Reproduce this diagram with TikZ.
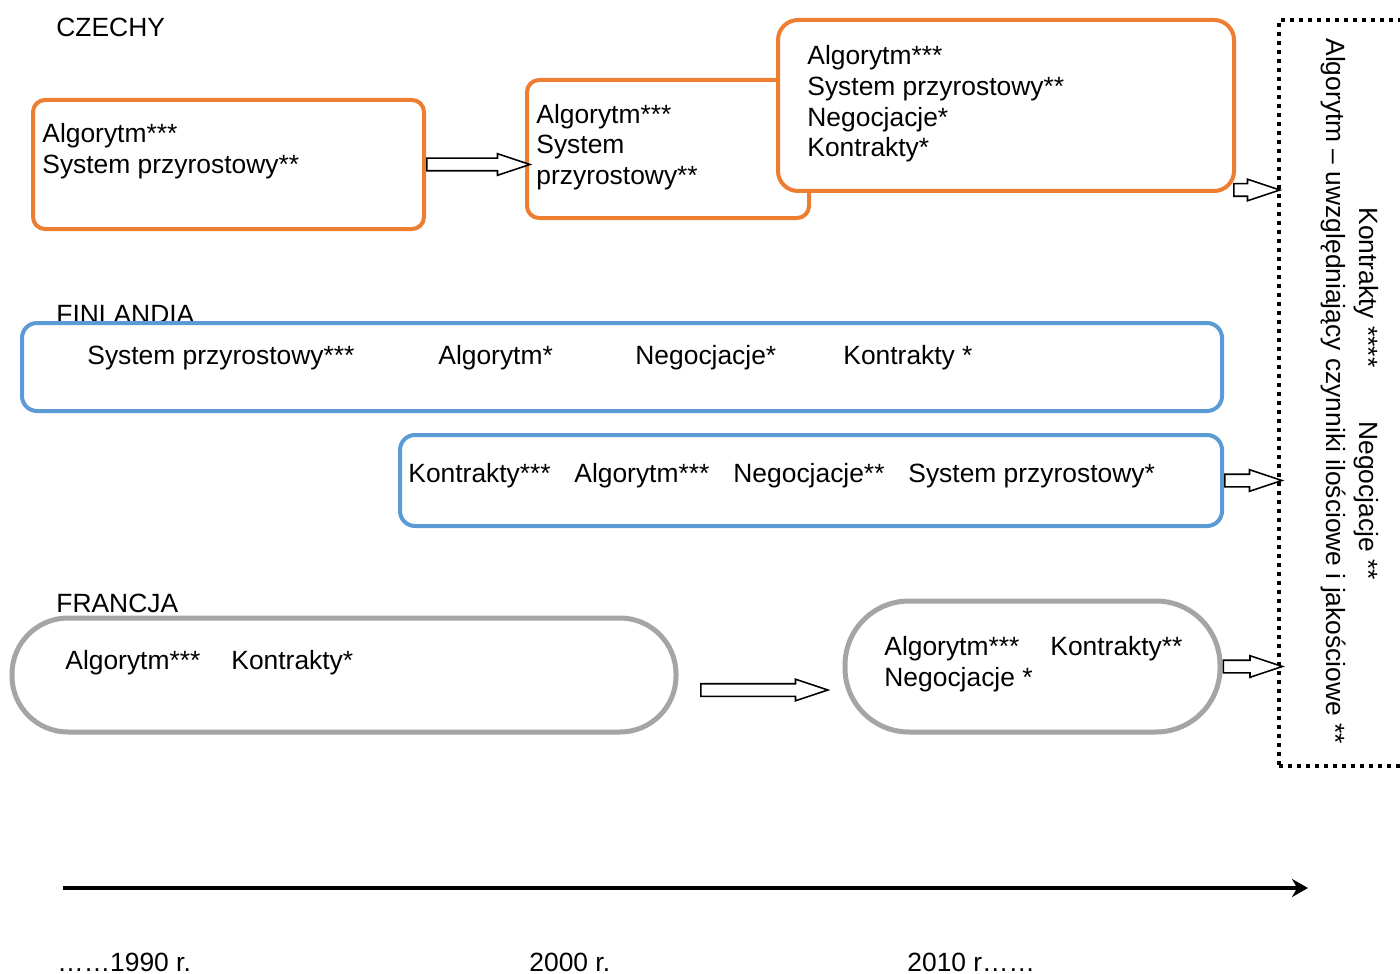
\documentclass[tikz,border=0pt]{standalone}
\usepackage{fontspec}
\setmainfont{Liberation Sans}
\usetikzlibrary{arrows.meta,positioning,fit,shapes.arrows}

\definecolor{czorange}{HTML}{ED7D31}
\definecolor{fiblue}{HTML}{5B9BD5}
\definecolor{frgray}{HTML}{A5A5A5}

\begin{document}
\begin{tikzpicture}[
  x=0.5pt, y=-0.5pt,
  >=Latex,
  every node/.style={font=\fontsize{13.2}{15.3}\selectfont},
  lbl/.style={anchor=west, inner sep=0pt, align=left},
  czbox/.style={draw=czorange, line width=2pt, rounded corners=6pt,
              fill=white, inner sep=0pt},
  fibox/.style={draw=fiblue, line width=2pt, rounded corners=7.5pt,
              inner sep=0pt},
  frbox/.style={draw=frgray, line width=2.5pt, fill=white, inner sep=0pt},
  blockarrow/.style={draw, line width=0.8pt, single arrow, fill=white,
              inner xsep=0pt, inner ysep=2.75pt,
              single arrow head extend=2.25pt,
              single arrow tip angle=37, anchor=tail},
  future/.style={draw, line width=1.6pt, dash pattern=on 2pt off 2.5pt,
              inner sep=0pt},
]
  \useasboundingbox (0,0) rectangle (1400,973);

  % Czechy
  \node[lbl] (czlabel) at (56,27) {CZECHY};
  \node[czbox, fit={(33,100) (424,229)}] (cz1) {};
  \node[czbox, fit={(527,80) (809,218)}] (cz2) {};
  \node[czbox, rounded corners=10pt, fit={(778,20) (1234,191)}] (cz3) {};
  \node[lbl] (cz1txt) at (42,151) {Algorytm***\\System przyrostowy**};
  \node[lbl] (cz2txt) at (536,147) {Algorytm***\\System\\przyrostowy**};
  \node[lbl] (cz3txt) at (807,104)
    {Algorytm***\\System przyrostowy**\\Negocjacje*\\Kontrakty*};

  % Finlandia
  \node[lbl] (filabel) at (56,314) {FINLANDIA};
  \node[fibox, fit={(22,323) (1222,411)}] (fi1) {};
  \node[lbl] (fi1a) at (87,358) {System przyrostowy***};
  \node[lbl] (fi1b) at (438,358) {Algorytm*};
  \node[lbl] (fi1c) at (635,358) {Negocjacje*};
  \node[lbl] (fi1d) at (843,358) {Kontrakty *};
  \node[fibox, fit={(400,435) (1222,526)}] (fi2) {};
  \node[lbl] (fi2a) at (408,476) {Kontrakty***};
  \node[lbl] (fi2b) at (574,476) {Algorytm***};
  \node[lbl] (fi2c) at (733,476) {Negocjacje**};
  \node[lbl] (fi2d) at (908,476) {System przyrostowy*};

  % Francja
  \node[lbl] (frlabel) at (56,603) {FRANCJA};
  \node[frbox, rounded corners=28pt, fit={(12,618) (676,732)}] (fr1) {};
  \node[lbl] (fr1a) at (65,663) {Algorytm***};
  \node[lbl] (fr1b) at (231,663) {Kontrakty*};
  \node[frbox, rounded corners=32pt, fit={(845,601) (1220,732)}] (fr2) {};
  \node[lbl] (fr2a) at (884,664) {Algorytm***\\Negocjacje *};
  \node[lbl] (fr2b) at (1050,649) {Kontrakty**};

  % future
  \node[future, fit={(1279,20) (1440,766)}] (fut) {};
  \node[lbl, rotate=-90] (futa) at (1333,38)
    {Algorytm – uwzględniający czynniki ilościowe i jakościowe **};
  \node[lbl, rotate=-90] (futb) at (1366,207) {Kontrakty ****};
  \node[lbl, rotate=-90] (futc) at (1366,421) {Negocjacje **};

  \node[blockarrow, minimum height=51.5pt] (a1) at (cz1.east) {};
  \node[blockarrow, minimum height=23pt] (a2) at (1233,190) {};
  \node[blockarrow, minimum height=28.5pt] (a3) at (fi2.east) {};
  \node[blockarrow, minimum height=63.5pt] (a4) at (700,690) {};
  \node[blockarrow, minimum height=29.5pt] (a5) at (fr2.east) {};

  % time axis
  \coordinate (t0) at (63,888);
  \coordinate (t1) at (1308,888);
  \draw[line width=2pt, -{Stealth[length=8pt,width=9pt]}] (t0) -- (t1);
  \node[lbl] (y1990) at (57,962) {……1990 r.};
  \node[lbl] (y2000) at (529,962) {2000 r.};
  \node[lbl] (y2010) at (907,962) {2010 r……};
\end{tikzpicture}
\end{document}
